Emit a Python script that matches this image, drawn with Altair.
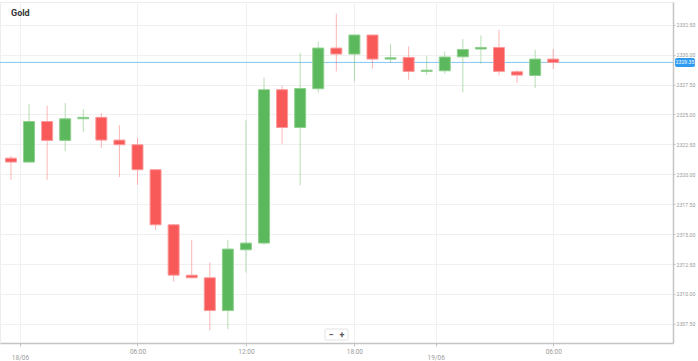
import altair as alt
import pandas as pd

# ---- data ----
candle_idx = list(range(31))
opens = [2321.35, 2321.02, 2324.41, 2322.83, 2324.64, 2324.76, 2322.86, 2322.47,
         2320.38, 2315.78, 2311.57, 2311.35, 2308.61, 2313.69, 2314.25, 2327.07,
         2323.91, 2327.15, 2330.55, 2330.05, 2331.64, 2329.63, 2329.77, 2328.60,
         2328.65, 2329.82, 2330.47, 2330.60, 2328.57, 2328.26, 2329.63]
highs = [2321.55, 2325.87, 2325.73, 2325.95, 2325.45, 2325.12, 2324.11, 2323.03,
         2320.45, 2315.85, 2314.52, 2312.63, 2314.52, 2324.50, 2328.09, 2327.42,
         2330.13, 2331.10, 2333.42, 2331.66, 2331.66, 2330.91, 2330.69, 2329.91,
         2330.27, 2331.30, 2331.61, 2332.06, 2328.74, 2330.41, 2330.47]
lows = [2319.54, 2320.95, 2319.54, 2321.94, 2323.53, 2322.19, 2319.77, 2319.12,
        2315.36, 2311.04, 2311.30, 2306.94, 2307.06, 2311.79, 2314.10, 2322.53,
        2319.06, 2326.84, 2328.60, 2327.76, 2328.82, 2329.30, 2327.90, 2328.29,
        2328.40, 2326.84, 2329.24, 2328.26, 2327.63, 2327.21, 2328.80]
closes = [2321.02, 2324.41, 2322.83, 2324.64, 2324.76, 2322.86, 2322.47, 2320.38,
          2315.78, 2311.57, 2311.35, 2308.61, 2313.75, 2314.25, 2327.07, 2323.91,
          2327.17, 2330.55, 2330.05, 2331.64, 2329.63, 2329.74, 2328.60, 2328.70,
          2329.80, 2330.43, 2330.60, 2328.60, 2328.29, 2329.63, 2329.35]

last_price = [2329.35]
last_price_label = ["2329.35"]

y_ticks = [2307.5, 2310.0, 2312.5, 2315.0, 2317.5, 2320.0, 2322.5, 2325.0,
           2327.5, 2330.0, 2332.5]
x_tick_pos = [0.5, 7, 13, 19, 23.5, 30]
x_tick_labels = ["18/06", "06:00", "12:00", "18:00", "19/06", "06:00"]
date_ticks = [0.5, 23.5]

title_text = ["Gold"]

# ---- styling ----
GREEN = "#5cb85c"
RED = "#f85a5a"
GREEN_EDGE = "#8fd08f"
RED_EDGE = "#fb9a9a"
BLUE = "#2f9bf0"
FONT = "Roboto"

df = pd.DataFrame({"i": candle_idx, "open": opens, "high": highs,
                   "low": lows, "close": closes})
df["dir"] = ["up" if c >= o else "down" for o, c in zip(opens, closes)]

label_expr = " : ".join(
    f"datum.value == {p} ? '{l}'" for p, l in zip(x_tick_pos, x_tick_labels)
) + " : ''"
date_test = " || ".join(f"datum.value == {p}" for p in date_ticks)

x_scale = alt.Scale(domain=[-0.33, 36.35], nice=False, zero=False)
y_scale = alt.Scale(domain=[2305.9, 2334.4], nice=False, zero=False)

x_axis = alt.Axis(values=x_tick_pos, labelExpr=label_expr, title=None,
                  grid=True, gridColor="#f0f0f0", gridWidth=1,
                  domainColor="#c4c4c4", domainWidth=1.5,
                  tickColor="#c4c4c4", tickSize=3,
                  labelFont=FONT, labelFontSize=6.5, labelColor="#9a9a9a",
                  labelPadding={"condition": {"test": date_test, "value": 8}, "value": 2},
                  labelFlush=False, labelOverlap=False)
y_axis = alt.Axis(values=y_ticks, format=".2f", orient="right", title=None,
                  grid=True, gridColor="#f0f0f0", gridWidth=1,
                  domainColor="#c4c4c4", domainWidth=1.5,
                  tickColor="#c4c4c4", tickSize=2,
                  labelFont=FONT, labelFontSize=5.2, labelColor="#9a9a9a",
                  labelPadding=1, labelOverlap=False)

base = alt.Chart(df)
dir_color = alt.Color("dir:N", scale=alt.Scale(domain=["up", "down"], range=[GREEN, RED]),
                      legend=None)

wicks = base.mark_rule(strokeWidth=1, opacity=0.45).encode(
    x=alt.X("i:Q", scale=x_scale, axis=x_axis),
    y=alt.Y("low:Q", scale=y_scale, axis=y_axis),
    y2="high:Q",
    color=dir_color,
)

bodies = base.mark_bar(size=11, strokeWidth=1).encode(
    x=alt.X("i:Q", scale=x_scale, axis=x_axis),
    y=alt.Y("open:Q", scale=y_scale, axis=y_axis),
    y2="close:Q",
    color=dir_color,
    stroke=alt.Stroke("dir:N", scale=alt.Scale(domain=["up", "down"],
                                               range=[GREEN_EDGE, RED_EDGE]),
                      legend=None),
)

price_df = pd.DataFrame({"p": last_price, "lbl": last_price_label})
price_line = alt.Chart(price_df).mark_rule(color="#86c5f5", strokeWidth=1).encode(
    y=alt.Y("p:Q", scale=y_scale, axis=y_axis)
)
price_tag = alt.Chart(price_df).mark_tick(
    color=BLUE, size=20, thickness=9, cornerRadius=2, opacity=1, orient="horizontal"
).encode(x=alt.value(685), y=alt.Y("p:Q", scale=y_scale, axis=y_axis))
price_text = alt.Chart(price_df).mark_text(
    color="white", fontSize=5.2, font=FONT, align="center", baseline="middle"
).encode(x=alt.value(685), y=alt.Y("p:Q", scale=y_scale, axis=y_axis), text="lbl:N")

title = alt.Chart(pd.DataFrame({"t": title_text})).mark_text(
    font=FONT, fontSize=9, fontWeight="bold", color="#333333", align="left",
    baseline="middle"
).encode(x=alt.value(11), y=alt.value(11), text="t:N")

zoom_box = alt.Chart(pd.DataFrame({"k": [0]})).mark_rect(
    fill="white", stroke="#e3e3e3", strokeWidth=1, cornerRadius=1
).encode(x=alt.value(325), x2=alt.value(348), y=alt.value(327), y2=alt.value(338))
zoom_minus = alt.Chart(pd.DataFrame({"s": ["−"]})).mark_text(
    font=FONT, fontSize=9, fontWeight="bold", color="#555555", baseline="middle"
).encode(x=alt.value(331), y=alt.value(332.5), text="s:N")
zoom_plus = alt.Chart(pd.DataFrame({"s": ["+"]})).mark_text(
    font=FONT, fontSize=9, fontWeight="bold", color="#555555", baseline="middle"
).encode(x=alt.value(342), y=alt.value(332.5), text="s:N")

chart = alt.layer(
    price_line, wicks, bodies, price_tag, price_text, title, zoom_box,
    zoom_minus, zoom_plus
).properties(
    width=673, height=341,
    autosize=alt.AutoSizeParams(type="none"),
    padding={"left": 0, "top": 2, "right": 25, "bottom": 18},
    background="white",
).configure_view(stroke="#ededed", strokeWidth=1)

chart.save("out.html", embed_options={"renderer": "svg", "actions": False})
